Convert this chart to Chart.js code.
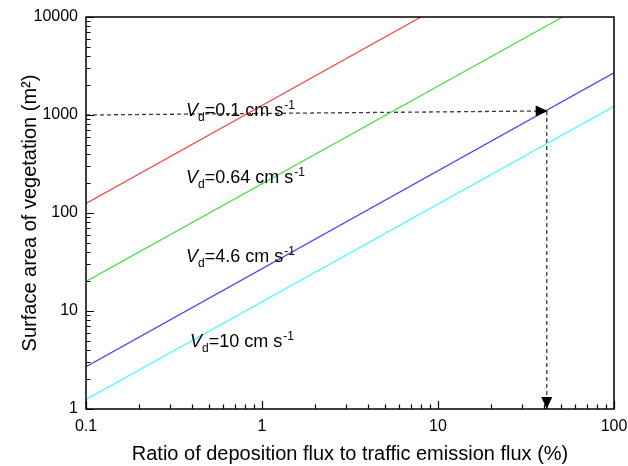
<!DOCTYPE html>
<html>
<head>
<meta charset="utf-8">
<script src="https://cdn.jsdelivr.net/npm/chart.js@4.4.0/dist/chart.umd.min.js"></script>
<style>
html, body { margin: 0; padding: 0; background: #fff; }
#wrap { width: 628px; height: 466px; }
</style>
</head>
<body>
<div id="wrap"><canvas id="chart" width="628" height="466"></canvas></div>
<script>
/* DATA */
const xTicks = [0.1, 1, 10, 100];
const yTicks = [1, 10, 100, 1000, 10000];
const vdValues = ["0.1", "0.64", "4.6", "10"];
const lineX = [[0.1, 8], [0.1, 51], [0.1, 100], [0.1, 100]];
const lineY = [[125, 10000], [20, 10000], [2.7, 2700], [1.25, 1230]];
const lineColors = ["#ff4040", "#40e040", "#4040ff", "#40ffff"];
const labelX = [0.37, 0.37, 0.37, 0.39];
const labelY = [980, 202, 31.6, 4.3];
const arrowHX = [0.1, 42];
const arrowHY = [1000, 1100];
const arrowVX = [41.5, 41.5];
const arrowVY = [1100, 1];

const FONT = "'Liberation Sans', Arial, sans-serif";
Chart.defaults.font.family = FONT;
Chart.defaults.color = "#000";

function pts(xs, ys) {
    return xs.map((x, i) => ({ x: x, y: ys[i] }));
}

const datasets = lineX.map((xs, i) => ({
    data: pts(xs, lineY[i]),
    borderColor: lineColors[i],
    borderWidth: 1.2,
    showLine: true,
    pointRadius: 0
}));

[[arrowHX, arrowHY], [arrowVX, arrowVY]].forEach(a => {
    datasets.push({
        data: pts(a[0], a[1]),
        borderColor: "#3a3a3a",
        borderWidth: 1.3,
        borderDash: [4, 3],
        showLine: true,
        pointRadius: 0,
        arrow: true
    });
});

/* frame, inward ticks, arrow heads, Vd labels */
const decor = {
    id: "decor",
    afterDatasetsDraw(chart) {
        const ctx = chart.ctx;
        const a = chart.chartArea;
        const xs = chart.scales.x, ys = chart.scales.y;
        ctx.save();

        // arrow heads
        chart.data.datasets.forEach(ds => {
            if (!ds.arrow) return;
            const n = ds.data.length;
            const p1 = ds.data[n - 2], p2 = ds.data[n - 1];
            const x1 = xs.getPixelForValue(p1.x), y1 = ys.getPixelForValue(p1.y);
            const x2 = xs.getPixelForValue(p2.x), y2 = ys.getPixelForValue(p2.y);
            const ang = Math.atan2(y2 - y1, x2 - x1);
            ctx.save();
            ctx.translate(x2, y2);
            ctx.rotate(ang);
            ctx.fillStyle = "#000";
            ctx.beginPath();
            ctx.moveTo(0, 0);
            ctx.lineTo(-12, -5.5);
            ctx.lineTo(-12, 5.5);
            ctx.closePath();
            ctx.fill();
            ctx.restore();
        });

        // frame
        ctx.strokeStyle = "#000";
        ctx.lineWidth = 1.5;
        ctx.strokeRect(a.left, a.top, a.right - a.left, a.bottom - a.top);

        // ticks
        ctx.lineWidth = 1.2;
        ctx.beginPath();
        for (let d = 0.1; d < 100; d *= 10) {
            for (let m = 1; m <= 10; m++) {
                const v = d * m;
                const px = Math.round(xs.getPixelForValue(v)) + 0.5;
                const len = (m === 1 || m === 10) ? 8 : 4.5;
                ctx.moveTo(px, a.bottom);
                ctx.lineTo(px, a.bottom - len);
            }
        }
        for (let d = 1; d < 10000; d *= 10) {
            for (let m = 1; m <= 10; m++) {
                const v = d * m;
                const py = Math.round(ys.getPixelForValue(v)) + 0.5;
                const len = (m === 1 || m === 10) ? 8 : 4.5;
                ctx.moveTo(a.left, py);
                ctx.lineTo(a.left + len, py);
            }
        }
        ctx.stroke();

        // Vd labels
        ctx.fillStyle = "#000";
        ctx.textBaseline = "alphabetic";
        ctx.textAlign = "left";
        vdValues.forEach((val, i) => {
            let x = xs.getPixelForValue(labelX[i]);
            const y = ys.getPixelForValue(labelY[i]);
            ctx.font = "italic 18px " + FONT;
            ctx.fillText("V", x, y);
            x += ctx.measureText("V").width;
            ctx.font = "12px " + FONT;
            ctx.fillText("d", x, y + 5);
            x += ctx.measureText("d").width;
            ctx.font = "18px " + FONT;
            const body = "=" + val + " cm s";
            ctx.fillText(body, x, y);
            x += ctx.measureText(body).width + 1;
            ctx.font = "12px " + FONT;
            ctx.fillText("-1", x, y - 7);
        });

        ctx.restore();
    }
};

new Chart(document.getElementById("chart"), {
    type: "scatter",
    data: { datasets: datasets },
    options: {
        responsive: false,
        animation: false,
        layout: { padding: { left: 12, top: 17, right: 14, bottom: 0 } },
        plugins: {
            legend: { display: false },
            tooltip: { enabled: false }
        },
        scales: {
            x: {
                type: "logarithmic",
                min: 0.1,
                max: 100,
                grid: { display: false, drawTicks: false },
                border: { display: false },
                afterBuildTicks: s => { s.ticks = xTicks.map(v => ({ value: v })); },
                afterFit: s => { s.height = 57; s.paddingRight = 0; s.paddingLeft = 0; },
                ticks: {
                    autoSkip: false,
                    maxRotation: 0,
                    padding: 8,
                    font: { size: 16 },
                    callback: v => String(v)
                },
                title: {
                    display: true,
                    text: "Ratio of deposition flux to traffic emission flux (%)",
                    font: { size: 20 },
                    padding: { top: 0, bottom: 0 }
                }
            },
            y: {
                type: "logarithmic",
                min: 1,
                max: 10000,
                grid: { display: false, drawTicks: false },
                border: { display: false },
                afterBuildTicks: s => { s.ticks = yTicks.map(v => ({ value: v })); },
                afterFit: s => { s.width = 74; s.paddingTop = 0; s.paddingBottom = 0; },
                ticks: {
                    autoSkip: false,
                    padding: 8,
                    font: { size: 16 },
                    callback: v => String(v)
                },
                title: {
                    display: true,
                    text: "Surface area of vegetation (m²)",
                    font: { size: 20 },
                    padding: { top: 6, bottom: 0 }
                }
            }
        }
    },
    plugins: [decor]
});
</script>
</body>
</html>
